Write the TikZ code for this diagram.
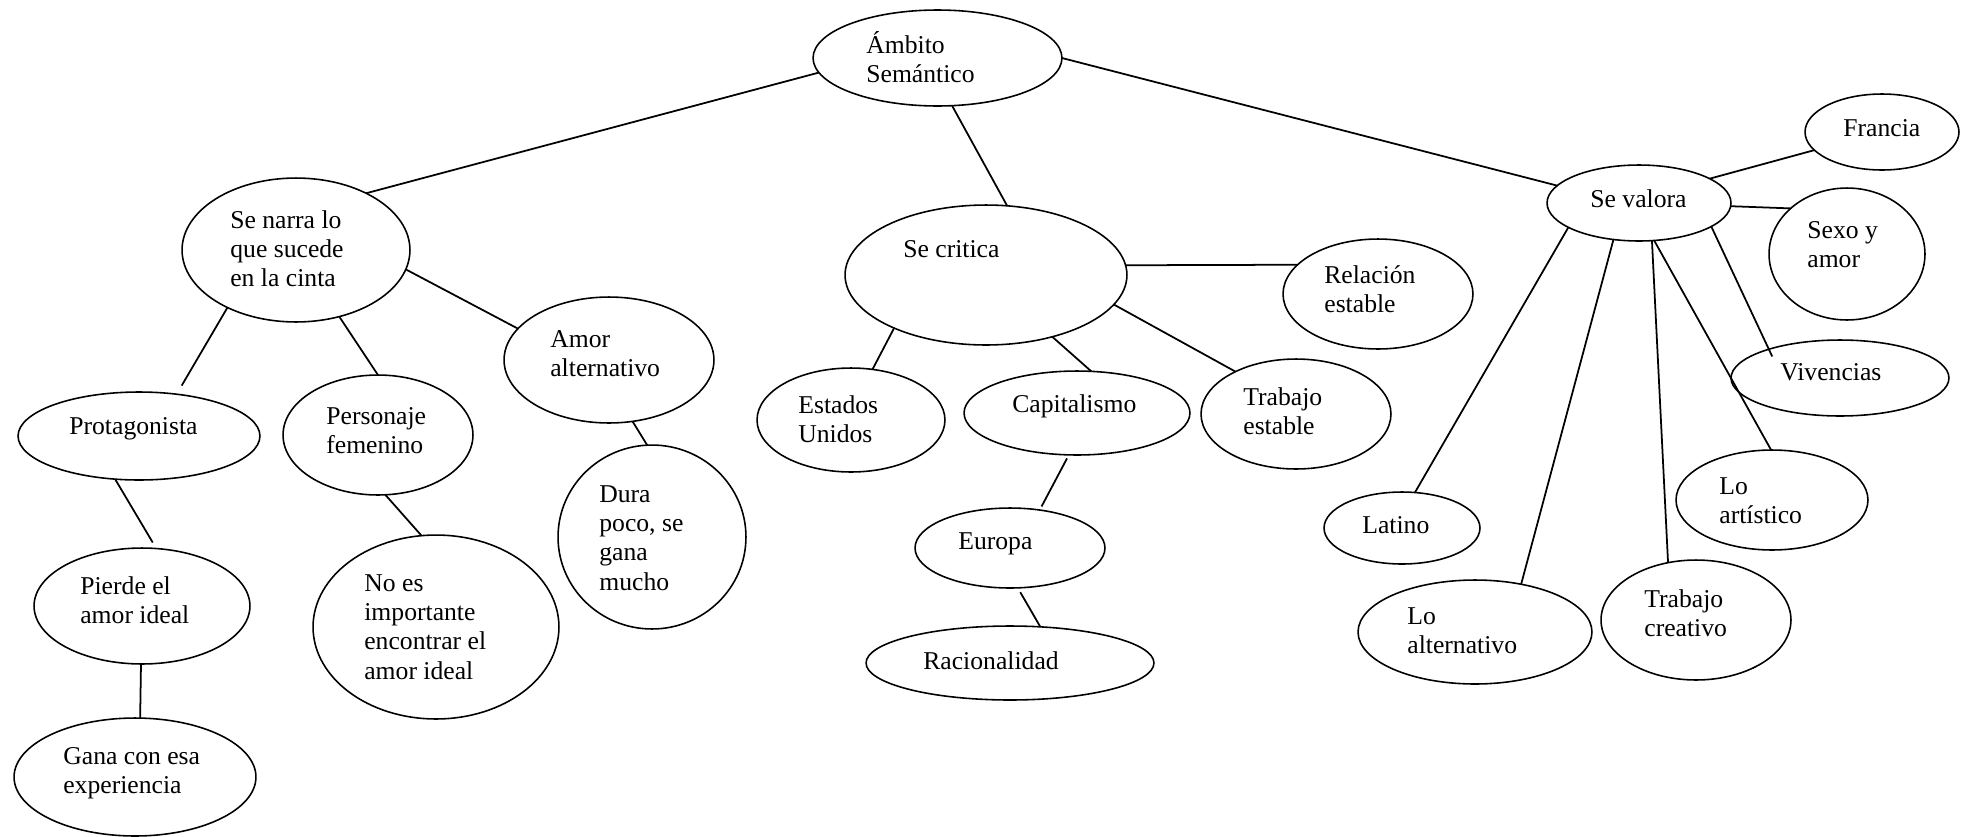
\documentclass[tikz,border=0pt]{standalone}
\usepackage{fontspec}
\setmainfont{Liberation Serif}
\usetikzlibrary{shapes.geometric}
% left-aligned stack of lines whose baseline is the first line
\newcommand\stackl[1]{\begin{tabular}[t]{@{}l@{}}#1\end{tabular}}
\begin{document}
\begin{tikzpicture}[x=0.02cm, y=-0.02cm,
  oval/.style 2 args={ellipse, draw, line width=0.9pt, inner sep=0pt, outer sep=0pt,
                      minimum width=#1*0.04cm, minimum height=#2*0.04cm},
  lbl/.style={anchor=base west, inner sep=0pt, font=\fontsize{14.6}{16.7}\selectfont},
  link/.style={line width=1pt}]

\useasboundingbox[fill=white] (0,0) rectangle (1968,836);

% ---- ellipses (centre, half axes) ----
\node[oval={124.5}{48}] (amb)   at (937.5,58) {};
\node[oval={114}{72}]   (narra) at (296,250) {};
\node[oval={141}{70}]   (crit)  at (986,275) {};
\node[oval={92}{38}]    (val)   at (1639,203) {};
\node[oval={77}{38}]    (fran)  at (1882,132) {};
\node[oval={78}{66}]    (sexo)  at (1847,254) {};
\node[oval={95}{55}]    (rel)   at (1378,294) {};
\node[oval={121}{44}]   (prot)  at (139,436) {};
\node[oval={95}{60}]    (pers)  at (378,435) {};
\node[oval={105}{63}]   (amor)  at (609,360) {};
\node[oval={94}{52}]    (est)   at (851,420) {};
\node[oval={113}{42}]   (cap)   at (1077,413) {};
\node[oval={95}{55}]    (trab)  at (1296,414) {};
\node[oval={94}{92}]    (dura)  at (652,537) {};
\node[oval={95}{40}]    (eur)   at (1010,548) {};
\node[oval={144}{37}]   (rac)   at (1010,663) {};
\node[oval={108}{58}]   (pier)  at (142,606) {};
\node[oval={123}{92}]   (noes)  at (436,627) {};
\node[oval={121}{59}]   (gana)  at (135,777) {};
\node[oval={109}{38}]   (viv)   at (1840,378) {};
\node[oval={78}{36}]    (lat)   at (1402,528) {};
\node[oval={117}{52}]   (loalt) at (1475,632) {};
\node[oval={95}{60}]    (trc)   at (1696,620) {};
\node[oval={96}{50}]    (art)   at (1772,500) {};

% ---- texts ----
\node[lbl] (amb-t)   at (866,53)   {\stackl{Ámbito\\Semántico}};
\node[lbl] (narra-t) at (230,228)  {\stackl{Se narra lo\\que sucede\\en la cinta}};
\node[lbl] (crit-t)  at (903,257)  {Se critica};
\node[lbl] (val-t)   at (1590,207) {Se valora};
\node[lbl] (fran-t)  at (1843,136) {Francia};
\node[lbl] (sexo-t)  at (1807,238) {\stackl{Sexo y\\amor}};
\node[lbl] (rel-t)   at (1324,283) {\stackl{Relación\\estable}};
\node[lbl] (prot-t)  at (69,434)   {Protagonista};
\node[lbl] (pers-t)  at (326,424)  {\stackl{Personaje\\femenino}};
\node[lbl] (amor-t)  at (550,347)  {\stackl{Amor\\alternativo}};
\node[lbl] (est-t)   at (798,413)  {\stackl{Estados\\Unidos}};
\node[lbl] (cap-t)   at (1012,412) {Capitalismo};
\node[lbl] (trab-t)  at (1243,405) {\stackl{Trabajo\\estable}};
\node[lbl] (dura-t)  at (599,502)  {\stackl{Dura\\poco, se\\gana\\mucho}};
\node[lbl] (eur-t)   at (958,549)  {Europa};
\node[lbl] (rac-t)   at (923,669)  {Racionalidad};
\node[lbl] (pier-t)  at (80,594)   {\stackl{Pierde el\\amor ideal}};
\node[lbl] (noes-t)  at (364,591)  {\stackl{No es\\importante\\encontrar el\\amor ideal}};
\node[lbl] (gana-t)  at (63,764)   {\stackl{Gana con esa\\experiencia}};
\node[lbl] (viv-t)   at (1780,380) {Vivencias};
\node[lbl] (lat-t)   at (1362,533) {Latino};
\node[lbl] (loalt-t) at (1407,624) {\stackl{Lo\\alternativo}};
\node[lbl] (trc-t)   at (1644,607) {\stackl{Trabajo\\creativo}};
\node[lbl] (art-t)   at (1719,494) {\stackl{Lo\\artístico}};

% ---- connectors ----
\draw[link] (amb.187) -- (narra.39);
\draw[link] (amb.-73) -- (crit.73);
\draw[link] (amb.0) -- (val.168);

\draw[link, shorten >=0.2cm] (narra.220) -- (prot.48);
\draw[link] (narra.-57) -- (pers.90);
\draw[link] (narra.-10) -- (amor.161);
\draw[link, shorten >=0.14cm] (prot.241) -- (pier.76);
\draw[link] (pier.-91) -- (gana.85);
\draw[link] (pers.-83) -- (noes.99);
\draw[link] (amor.-69) -- (dura.93);

\draw[link] (crit.210) -- (est.67);
\draw[link] (crit.-43) -- (cap.71);
\draw[link] (crit.-13) -- (trab.145);
\draw[link] (crit.4) -- (rel.160);
\draw[link, shorten <=0.08cm, shorten >=0.08cm] (cap.259) -- (eur.52);
\draw[link, shorten <=0.1cm] (eur.-79) -- (rac.50);

\draw[link] (val.19) -- (fran.195);
\draw[link] (val.-2) -- (sexo.141);
\draw[link, shorten >=-0.16cm] (val.-18) -- (viv.158);
\draw[link] (val.199) -- (lat.70);
\draw[link] (val.235) -- (loalt.46);
\draw[link] (val.-71) -- (trc.116);
\draw[link] (val.-68) -- (art.91);
\end{tikzpicture}
\end{document}
